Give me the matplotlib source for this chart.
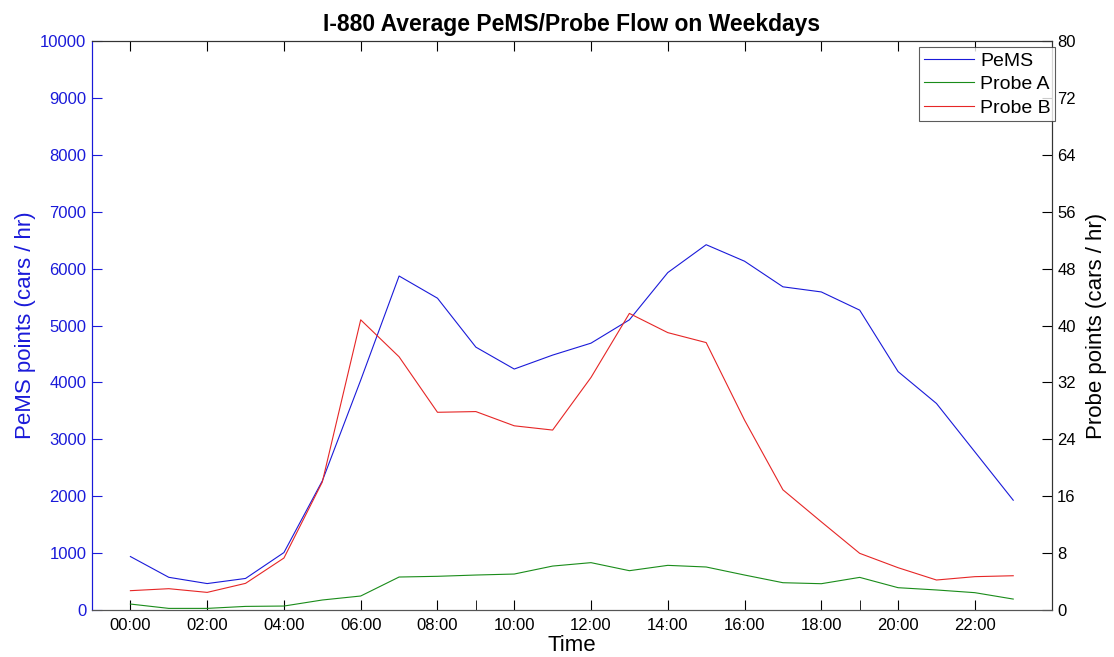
import numpy as np
import matplotlib
matplotlib.use('Agg')
import matplotlib.pyplot as plt

plt.rcParams['font.family'] = ['Liberation Sans', 'DejaVu Sans']

hours = np.arange(24)
hour_labels = ['%02d:00' % h for h in range(0, 24, 2)]

# PeMS flow (left axis, cars/hr)
pems = [940, 575, 465, 555, 1010, 2270, 4040, 5870, 5480, 4620, 4235, 4480,
        4690, 5100, 5930, 6420, 6130, 5680, 5590, 5270, 4190, 3630, 2780, 1930]
# probe flows (right axis, cars/hr)
probe_a = [0.84, 0.23, 0.23, 0.51, 0.56, 1.41, 1.97, 4.64, 4.74, 4.92, 5.06, 6.18,
           6.66, 5.53, 6.28, 6.05, 4.92, 3.84, 3.70, 4.59, 3.14, 2.82, 2.44, 1.54]
probe_b = [2.72, 3.0, 2.48, 3.75, 7.31, 18.0, 40.8, 35.6, 27.8, 27.9, 25.9, 25.3,
           32.7, 41.7, 39.0, 37.6, 26.7, 16.9, 12.4, 7.97, 5.95, 4.22, 4.69, 4.82]

left_ticks = np.arange(0, 10001, 1000)
right_ticks = np.arange(0, 81, 8)

blue = (0.1, 0.1, 0.85)
green = (0.1, 0.55, 0.1)
red = (0.9, 0.15, 0.15)

fig = plt.figure(figsize=(11.14, 6.57), dpi=100)
ax = fig.add_axes([0.0826, 0.0715, 0.8614, 0.8661])
ax2 = ax.twinx()

l1, = ax.plot(hours, pems, color=blue, lw=0.8, label='PeMS')
l2, = ax2.plot(hours, probe_a, color=green, lw=0.8, label='Probe A')
l3, = ax2.plot(hours, probe_b, color=red, lw=0.8, label='Probe B')

ax.set_xlim(-1, 24)
ax.set_ylim(0, 10000)
ax2.set_ylim(0, 80)

ax.set_xticks(list(range(0, 24, 2)))
ax.set_xticklabels(hour_labels)
ax.set_xticks([9, 19], minor=True)
ax.tick_params(axis='x', which='both', direction='in', length=7, top=True,
               labelsize=12, colors='black', pad=6)
ax.tick_params(axis='x', which='minor', top=False)
ax.set_yticks(left_ticks)
ax.tick_params(axis='y', direction='in', length=7, labelsize=12,
               colors=blue, pad=4)
ax2.set_yticks(right_ticks)
ax2.tick_params(axis='y', direction='in', length=7, labelsize=12,
                colors='black', pad=4)

for a in (ax, ax2):
    a.spines['bottom'].set_color('#555555')
    a.spines['left'].set_color(blue)
    a.spines['right'].set_color('#333333')
    a.spines['top'].set_color('#333333')

ax.set_xlabel('Time', fontsize=16, labelpad=1)
ax.set_ylabel('PeMS points (cars / hr)', fontsize=16, color=blue, labelpad=3)
ax2.set_ylabel('Probe points (cars / hr)', fontsize=16, color='black', labelpad=7)
ax.set_title('I-880 Average PeMS/Probe Flow on Weekdays', fontsize=16.5,
             fontweight='bold', pad=7)

leg = ax2.legend(handles=[l1, l2, l3], loc='upper right', fontsize=14,
                 frameon=True, fancybox=False, edgecolor='#333333',
                 borderpad=0.25, labelspacing=0.3, handlelength=2.6,
                 handletextpad=0.3, borderaxespad=0,
                 bbox_to_anchor=(1.004, 0.989))
leg.get_frame().set_linewidth(0.8)

fig.savefig('out.png', dpi=100)
